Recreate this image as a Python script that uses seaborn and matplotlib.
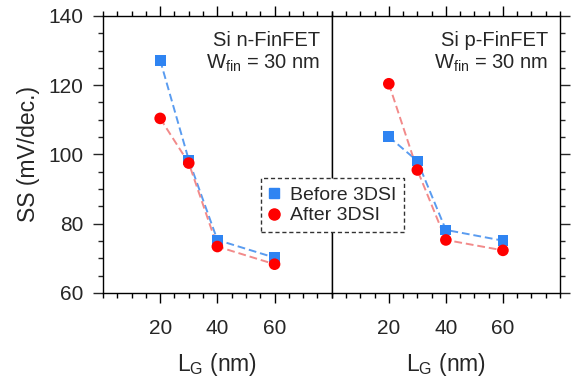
import numpy as np
import pandas as pd
import matplotlib
matplotlib.use("Agg")
import matplotlib.pyplot as plt
from matplotlib.ticker import MultipleLocator, FixedLocator
from matplotlib.lines import Line2D
import seaborn as sns

# ---- data ----
lg = [20, 30, 40, 60]
n_before = [127.2, 98.4, 75.3, 70.2]
n_after = [110.4, 97.5, 73.4, 68.3]
p_before = [105.1, 98.1, 78.2, 75.1]
p_after = [120.4, 95.5, 75.3, 72.3]
series_names = ["Before 3DSI", "After 3DSI"]
panel_titles = ["Si n-FinFET", "Si p-FinFET"]
y_ticks = [60, 80, 100, 120, 140]
x_ticks = [20, 40, 60]

sns.set_theme(style="ticks")
plt.rcParams["font.family"] = ["Liberation Sans", "DejaVu Sans"]
plt.rcParams["mathtext.default"] = "regular"

marker_colors = {"Before 3DSI": "#2f84f2", "After 3DSI": "#ff0000"}
line_colors = {"Before 3DSI": "#5a9cf0", "After 3DSI": "#f28a8a"}
markers = {"Before 3DSI": "s", "After 3DSI": "o"}

fig = plt.figure(figsize=(5.72, 3.78), dpi=100)
ax1 = fig.add_axes([0.180, 0.225, 0.400, 0.733])
ax2 = fig.add_axes([0.580, 0.225, 0.399, 0.733])

panels = [(ax1, n_before, n_after), (ax2, p_before, p_after)]
for i, (ax, b, a) in enumerate(panels):
    df = pd.DataFrame({
        "LG": lg * 2,
        "SS": b + a,
        "series": [series_names[0]] * len(lg) + [series_names[1]] * len(lg),
    })
    sns.lineplot(data=df, x="LG", y="SS", hue="series", palette=line_colors,
                 ax=ax, legend=False, linewidth=1.4, linestyle=(0, (4, 2)),
                 sort=False)
    for s in series_names:
        sub = df[df["series"] == s]
        sns.scatterplot(data=sub, x="LG", y="SS", color=marker_colors[s],
                        marker=markers[s], s=70 if s == "After 3DSI" else 60,
                        edgecolor="none", ax=ax, legend=False, zorder=3)
    ax.set_xlim(0, 80)
    ax.set_ylim(60, 140)
    ax.xaxis.set_major_locator(FixedLocator(x_ticks))
    ax.xaxis.set_minor_locator(MultipleLocator(5))
    ax.yaxis.set_major_locator(FixedLocator(y_ticks))
    ax.yaxis.set_minor_locator(MultipleLocator(5))
    ax.set_xlabel("L$_G$ (nm)", fontsize=16.5, labelpad=9)
    ax.set_ylabel("")
    for sp in ax.spines.values():
        sp.set_visible(True)
        sp.set_color("black")
        sp.set_linewidth(1.0)
    ax.tick_params(axis="x", which="both", direction="out", top=True, bottom=True,
                   labelsize=15, pad=12, color="black")
    ax.tick_params(axis="x", which="major", length=7, width=1.0)
    ax.tick_params(axis="x", which="minor", length=3.5, width=1.0)
    ax.tick_params(axis="y", which="major", length=7, width=1.0)
    ax.tick_params(axis="y", which="minor", length=3.5, width=1.0)
    ax.text(0.95, 0.893, panel_titles[i], transform=ax.transAxes, ha="right",
            va="baseline", fontsize=14.5)
    ax.text(0.95, 0.81, "W$_{fin}$ = 30 nm", transform=ax.transAxes, ha="right",
            va="baseline", fontsize=14.5)

ax1.tick_params(axis="y", which="both", left=True, right=False, labelleft=True,
                labelsize=15, pad=7, direction="out")
ax1.set_ylabel("SS (mV/dec.)", fontsize=16.5, labelpad=6)
ax2.tick_params(axis="y", which="both", left=False, right=True, labelleft=False,
                labelright=False, direction="out")

handles = [Line2D([], [], linestyle="none", marker=markers[s], color=marker_colors[s],
                  markersize=8 if s == "After 3DSI" else 7.5) for s in series_names]
leg = fig.legend(handles, series_names, loc="center", bbox_to_anchor=(0.581, 0.457),
                 fontsize=14, frameon=True, fancybox=False, handlelength=0.6,
                 handletextpad=0.5, borderpad=0.4, labelspacing=0.15,
                 borderaxespad=0)
fr = leg.get_frame()
fr.set_linestyle((0, (3, 2)))
fr.set_edgecolor("#333333")
fr.set_linewidth(1.0)
fr.set_facecolor("white")
fr.set_alpha(1)
leg.set_zorder(10)

fig.savefig("out.png", dpi=100)
